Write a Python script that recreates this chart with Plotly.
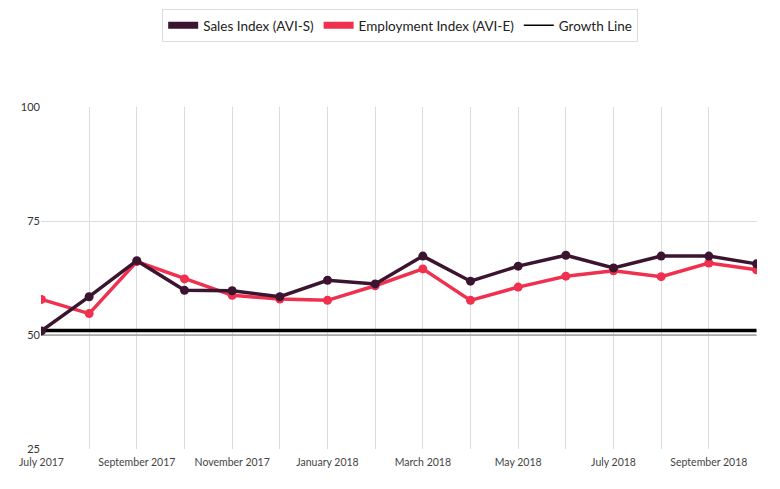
import plotly.graph_objects as go

months = ["July 2017", "August 2017", "September 2017", "October 2017", "November 2017",
          "December 2017", "January 2018", "February 2018", "March 2018", "April 2018",
          "May 2018", "June 2018", "July 2018", "August 2018", "September 2018", "October 2018"]
sales = [50.9, 58.4, 66.3, 59.8, 59.7, 58.4, 62.0, 61.2, 67.3, 61.8, 65.1, 67.5, 64.7, 67.3, 67.3, 65.6]
employment = [57.8, 54.7, 66.1, 62.3, 58.7, 57.9, 57.6, 60.8, 64.5, 57.6, 60.5, 62.9, 64.1, 62.8, 65.8, 64.3]
growth = [51] * len(months)
tick_text = [m if i % 2 == 0 else "" for i, m in enumerate(months)]
y_ticks = [25, 50, 75, 100]

SALES_C = "#3b1530"
EMP_C = "#f0304f"
FONT = "Lato"

fig = go.Figure()
# Gray 50 baseline
fig.add_trace(go.Scatter(x=months, y=[50] * len(months), mode="lines",
                         line=dict(color="#777777", width=1.2), showlegend=False, hoverinfo="skip"))
fig.add_trace(go.Scatter(x=months, y=growth, mode="lines", name="Growth Line",
                         line=dict(color="#000000", width=3.5), showlegend=False))
fig.add_trace(go.Scatter(x=months, y=employment, mode="lines+markers", name="Employment Index (AVI-E)",
                         line=dict(color=EMP_C, width=3.5), marker=dict(size=9, color=EMP_C),
                         showlegend=False))
fig.add_trace(go.Scatter(x=months, y=sales, mode="lines+markers", name="Sales Index (AVI-S)",
                         line=dict(color=SALES_C, width=3.5), marker=dict(size=9, color=SALES_C),
                         showlegend=False))

# Legend entries
fig.add_trace(go.Scatter(x=[None], y=[None], mode="lines", name="Sales Index (AVI-S)",
                         line=dict(color=SALES_C, width=7)))
fig.add_trace(go.Scatter(x=[None], y=[None], mode="lines", name="Employment Index (AVI-E)",
                         line=dict(color=EMP_C, width=7)))
fig.add_trace(go.Scatter(x=[None], y=[None], mode="lines", name="Growth Line",
                         line=dict(color="#000000", width=1.5)))

fig.update_layout(
    width=772, height=481,
    margin=dict(l=33, r=23, t=99, b=40, autoexpand=False),
    paper_bgcolor="white", plot_bgcolor="white",
    font=dict(family=FONT, size=11, color="#333333"),
    showlegend=True,
    legend=dict(orientation="h", x=0.508, xanchor="center", xref="container",
                y=0.998, yanchor="top", yref="container",
                bordercolor="#dddddd", borderwidth=1,
                font=dict(size=13.5, color="#222222"), itemwidth=30,
                traceorder="normal"),
    xaxis=dict(type="category", categoryorder="array", categoryarray=months,
               tickmode="array", tickvals=months, ticktext=tick_text,
               showgrid=True, gridcolor="#dcdcdc", gridwidth=1, automargin=False,
               showline=False, zeroline=False, ticks="", range=[-0.01, 15.01],
               ticklabelstandoff=5,
               tickfont=dict(size=10.5, color="#444444")),
    yaxis=dict(range=[25, 100], tickvals=y_ticks, showgrid=True, gridcolor="#dcdcdc",
               gridwidth=1, zeroline=False, showline=False, ticks="", automargin=False,
               tickfont=dict(size=11, color="#333333")),
)

fig.write_html("out.html")
